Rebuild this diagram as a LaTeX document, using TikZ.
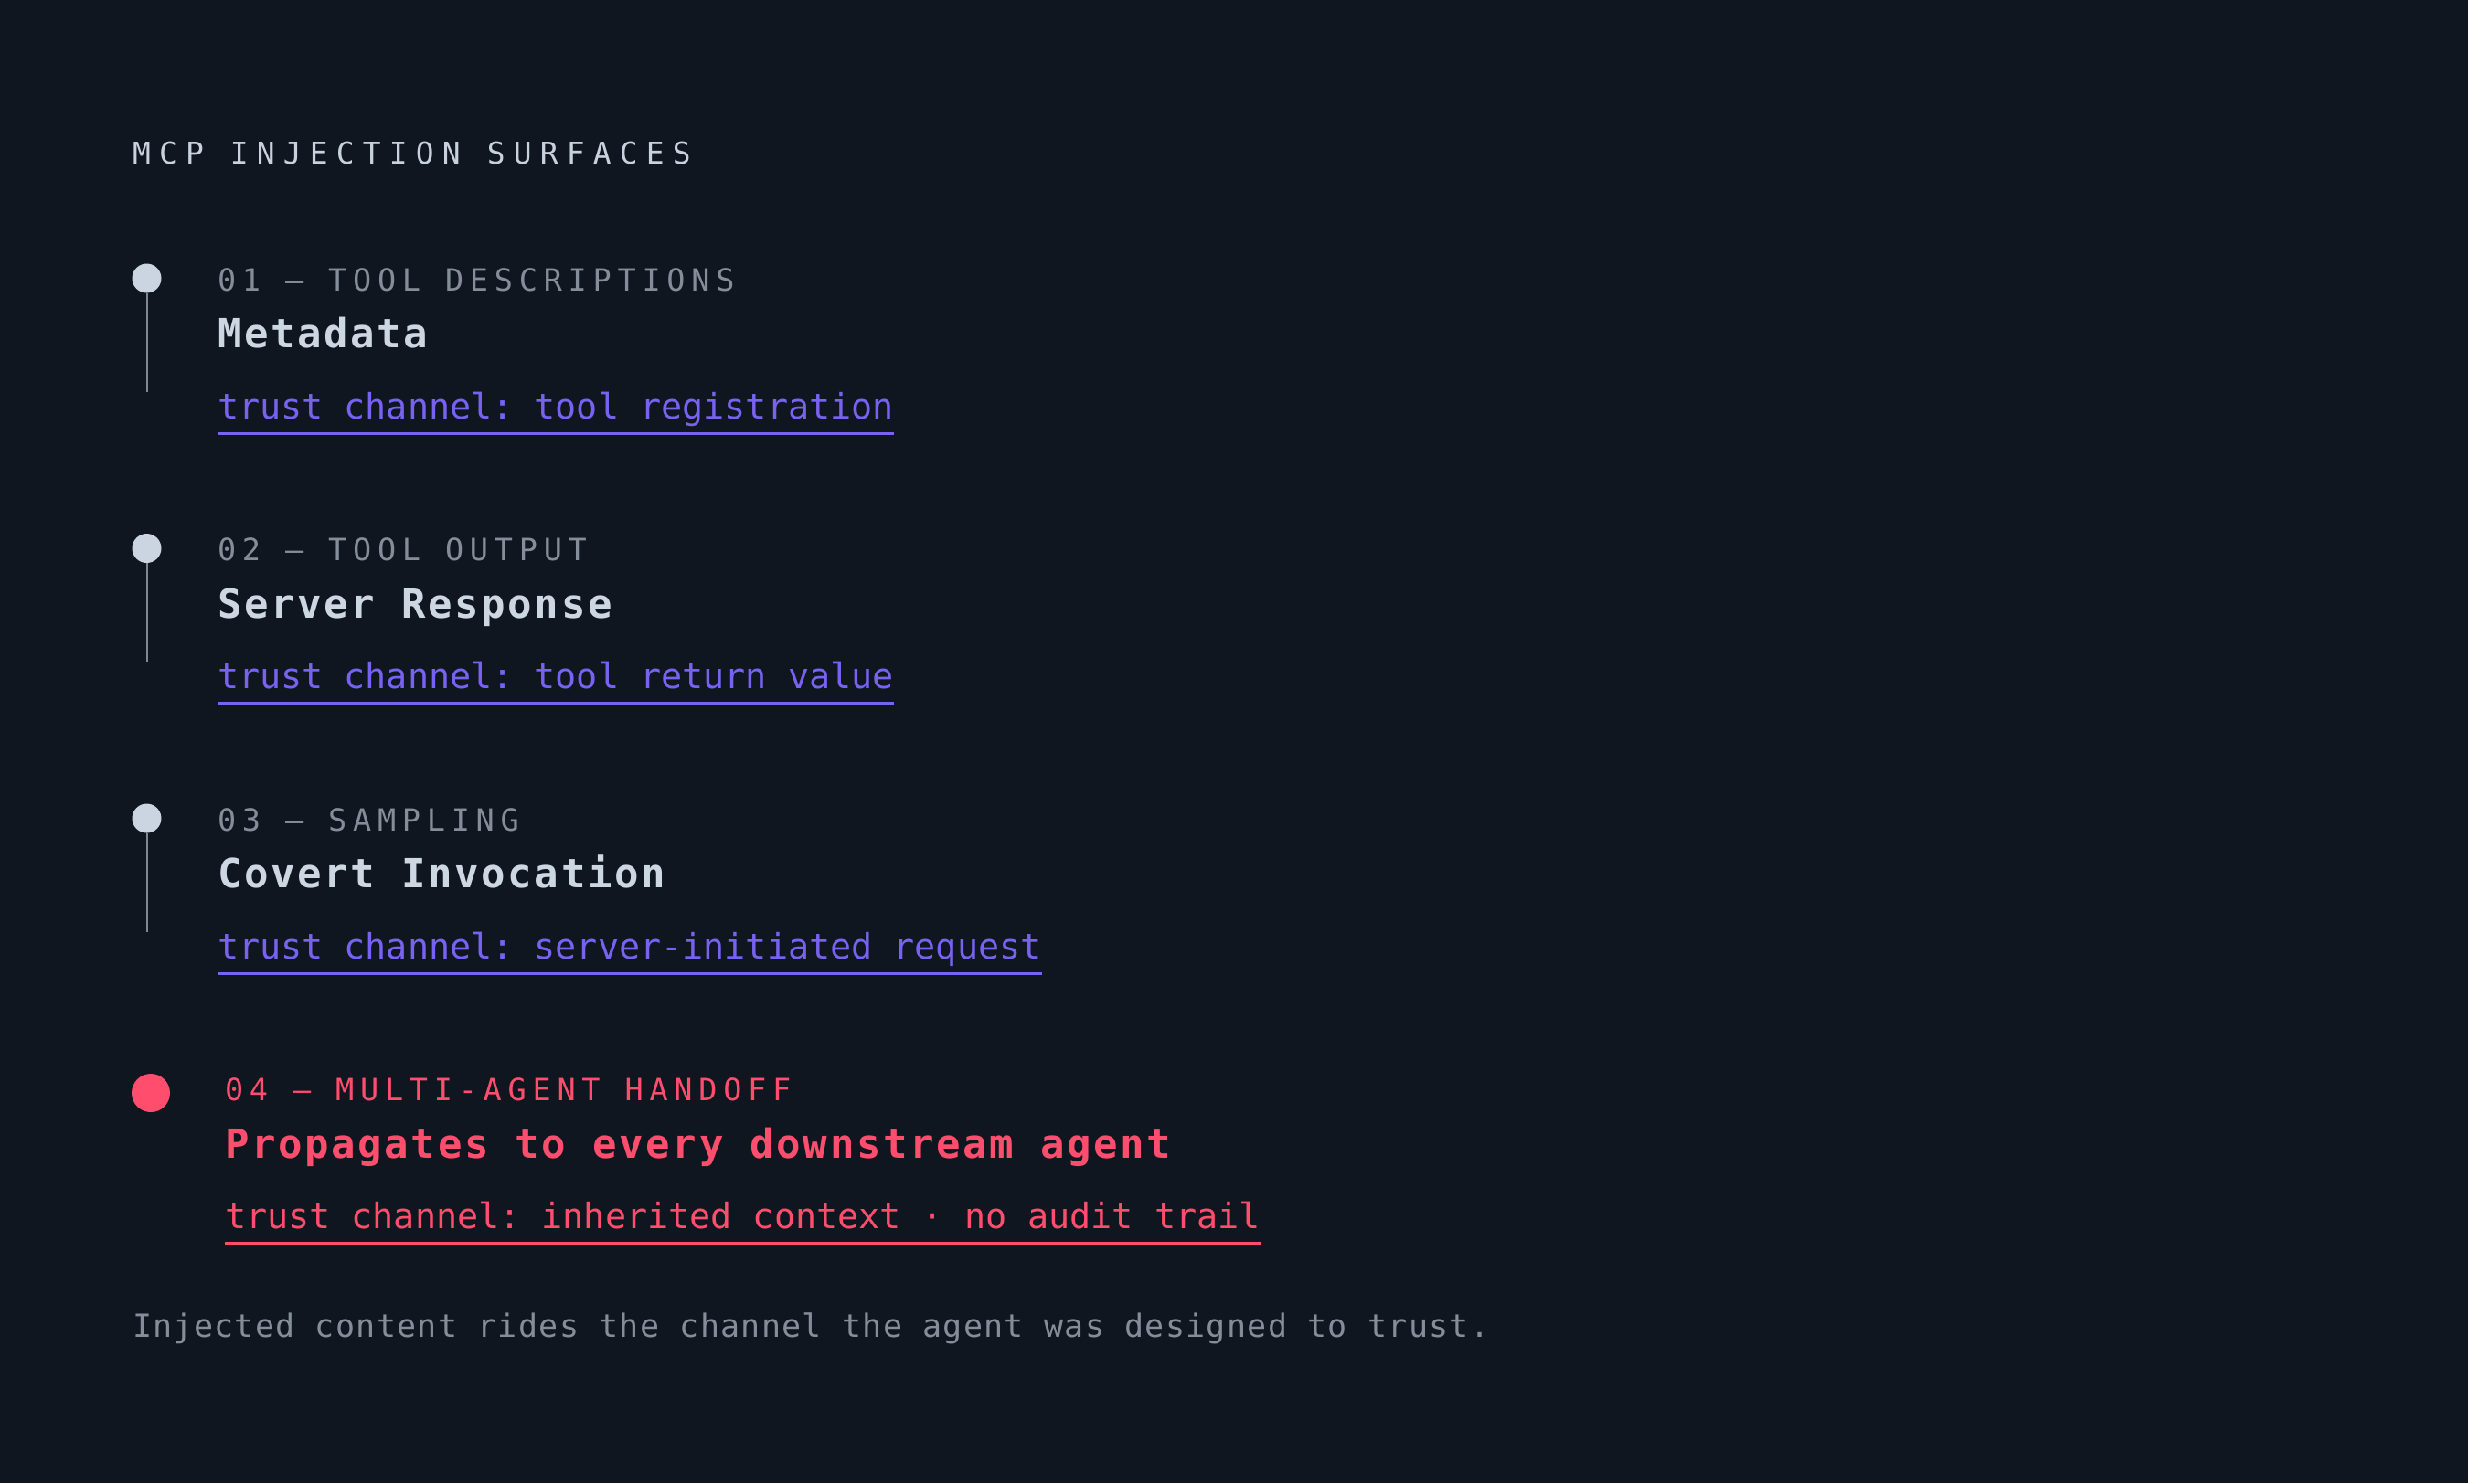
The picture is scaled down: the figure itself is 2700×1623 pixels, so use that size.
\documentclass[tikz,border=0pt]{standalone}
\usepackage{fontspec}
\setmainfont{DejaVu Sans Mono}
\newfontfamily\titlefont{DejaVu Sans Mono}[LetterSpace=28]
\newfontfamily\labelfont{DejaVu Sans Mono}[LetterSpace=20.2]
\newfontfamily\headfont{DejaVu Sans Mono}[LetterSpace=6]
\newfontfamily\plainfont{DejaVu Sans Mono}
\newfontfamily\footfont{DejaVu Sans Mono}[LetterSpace=3.7]
\definecolor{bgc}{HTML}{0F1620}
\definecolor{titlec}{HTML}{C8D2DE}
\definecolor{labelc}{HTML}{858D98}
\definecolor{headc}{HTML}{CDD7E2}
\definecolor{dotc}{HTML}{CBD5E1}
\definecolor{stemc}{HTML}{7F8792}
\definecolor{purplec}{HTML}{7862F2}
\definecolor{redc}{HTML}{FF4D6D}
\definecolor{footc}{HTML}{858D98}
\begin{document}
\frenchspacing
\begin{tikzpicture}[x=0.3pt,y=-0.3pt,
  txt/.style={anchor=base west, inner sep=0pt, outer sep=0pt},
  titletxt/.style={txt, text=titlec, font={\frenchspacing\titlefont\fontsize{9.87}{12}\selectfont}},
  labeltxt/.style={txt, text=labelc, font={\frenchspacing\labelfont\fontsize{10.05}{12}\selectfont}},
  headtxt/.style={txt, text=headc, font={\frenchspacing\headfont\bfseries\fontsize{13.2}{16}\selectfont}},
  trusttxt/.style={txt, text=purplec, font={\frenchspacing\plainfont\fontsize{11.52}{14}\selectfont}},
  foottxt/.style={txt, text=footc, font={\frenchspacing\footfont\fontsize{10.5}{13}\selectfont}},
  dotnode/.style={circle, fill=dotc, minimum size=9.6pt, inner sep=0pt, outer sep=0pt},
  reddot/.style={circle, fill=redc, minimum size=12.6pt, inner sep=0pt, outer sep=0pt},
  stem/.style={draw=stemc, line width=0.6pt},
  ulpurple/.style={draw=purplec, line width=0.9pt},
  ulred/.style={draw=redc, line width=0.9pt}]
\fill[bgc] (0,0) rectangle (2700,1623);
\useasboundingbox (0,0) rectangle (2700,1623);

\node[titletxt] (title) at (145,179) {MCP INJECTION SURFACES};

% item 1
\node[dotnode] (d1) at (160.5,304.5) {};
\coordinate (e1) at (160.5,429);
\draw[stem] (d1.south) -- (e1);
\node[labeltxt] (l1) at (238,318) {01 — TOOL DESCRIPTIONS};
\node[headtxt] (h1) at (238,380.5) {Metadata};
\node[trusttxt] (t1) at (238,458) {trust channel: tool registration};
\draw[ulpurple] ([yshift=-4.8pt]t1.base west) -- ([yshift=-4.8pt]t1.base east);

% item 2
\node[dotnode] (d2) at (160.5,600) {};
\coordinate (e2) at (160.5,724.5);
\draw[stem] (d2.south) -- (e2);
\node[labeltxt] (l2) at (238,613.5) {02 — TOOL OUTPUT};
\node[headtxt] (h2) at (238,676) {Server Response};
\node[trusttxt] (t2) at (238,753.5) {trust channel: tool return value};
\draw[ulpurple] ([yshift=-4.8pt]t2.base west) -- ([yshift=-4.8pt]t2.base east);

% item 3
\node[dotnode] (d3) at (160.5,895.5) {};
\coordinate (e3) at (160.5,1020);
\draw[stem] (d3.south) -- (e3);
\node[labeltxt] (l3) at (238,909) {03 — SAMPLING};
\node[headtxt] (h3) at (238,971.5) {Covert Invocation};
\node[trusttxt] (t3) at (238,1049) {trust channel: server-initiated request};
\draw[ulpurple] ([yshift=-4.8pt]t3.base west) -- ([yshift=-4.8pt]t3.base east);

% item 4
\node[reddot] (d4) at (165,1196) {};
\node[labeltxt, text=redc] (l4) at (246,1204.5) {04 — MULTI-AGENT HANDOFF};
\node[headtxt, text=redc] (h4) at (246,1267) {Propagates to every downstream agent};
\node[trusttxt, text=redc] (t4) at (246,1344.5) {trust channel: inherited context · no audit trail};
\draw[ulred] ([yshift=-4.8pt]t4.base west) -- ([yshift=-4.8pt]t4.base east);

\node[foottxt] (foot) at (145,1463.5) {Injected content rides the channel the agent was designed to trust.};
\end{tikzpicture}
\end{document}
